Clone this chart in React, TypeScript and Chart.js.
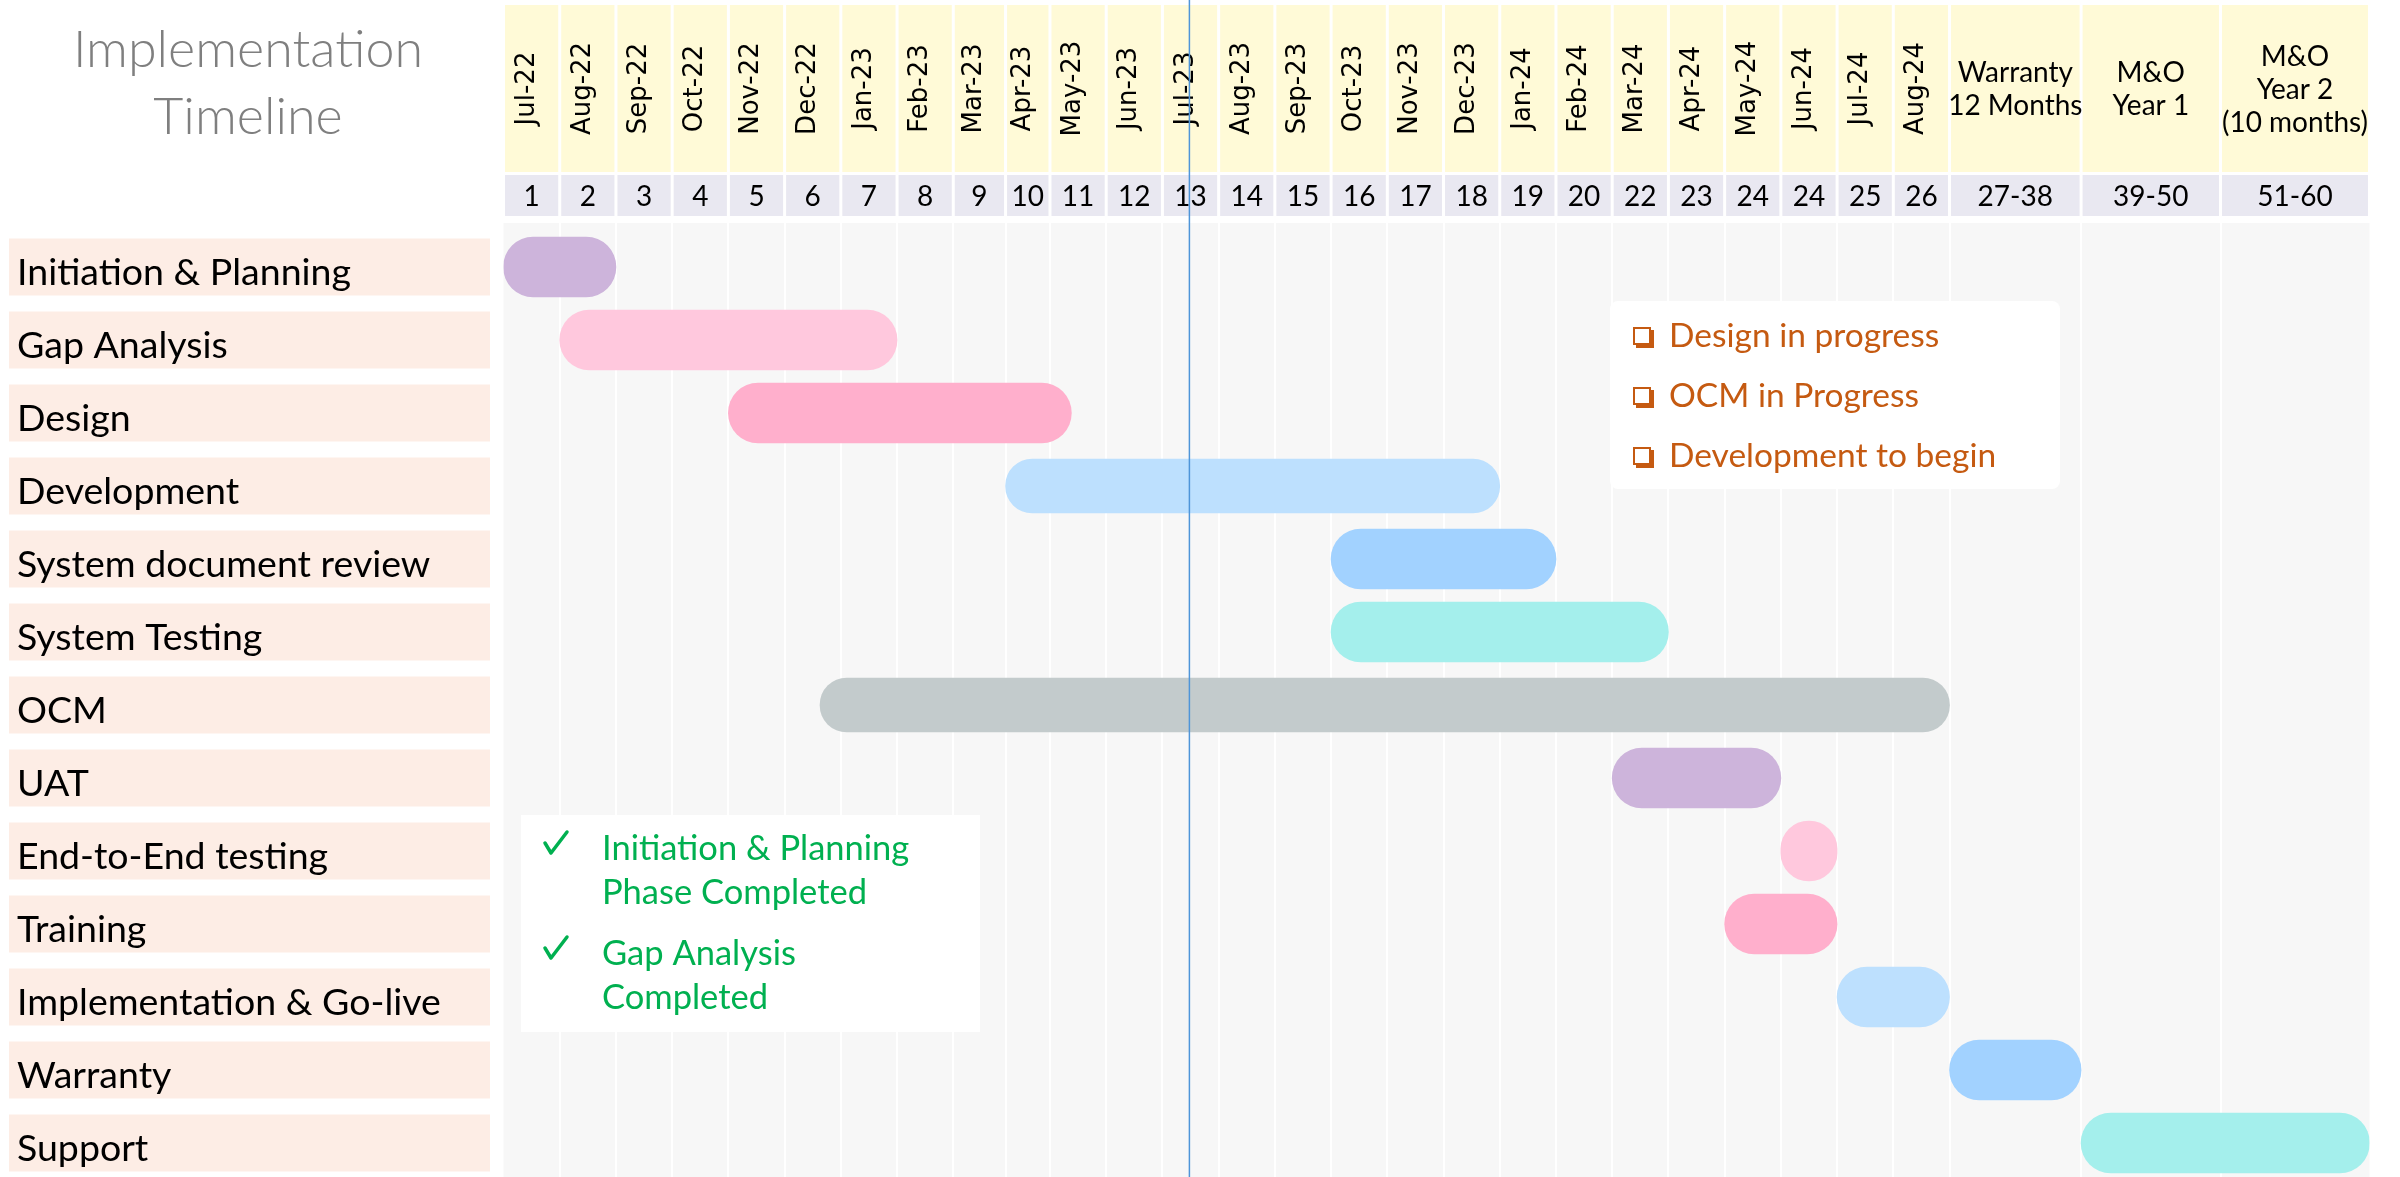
import { useEffect, useRef } from "react";
import { Chart, registerables } from "chart.js";

Chart.register(...registerables);

// ---------------- data ----------------
const taskNames = [
  "Initiation & Planning",
  "Gap Analysis",
  "Design",
  "Development",
  "System document review",
  "System Testing",
  "OCM",
  "UAT",
  "End-to-End testing",
  "Training",
  "Implementation & Go-live",
  "Warranty",
  "Support",
];
// positions on the period grid (0 = start of Jul-22, 1 = start of Aug-22, ...)
const taskStart = [0, 1, 4, 9, 15, 15, 5.63, 20, 23, 22, 24, 26, 27];
const taskEnd = [2, 7, 10.38, 18, 19, 21, 26, 23, 24, 24, 26, 27, 29];

const periodLabels = [
  "Jul-22", "Aug-22", "Sep-22", "Oct-22", "Nov-22", "Dec-22",
  "Jan-23", "Feb-23", "Mar-23", "Apr-23", "May-23", "Jun-23",
  "Jul-23", "Aug-23", "Sep-23", "Oct-23", "Nov-23", "Dec-23",
  "Jan-24", "Feb-24", "Mar-24", "Apr-24", "May-24", "Jun-24",
  "Jul-24", "Aug-24",
  "Warranty\n12 Months", "M&O\nYear 1", "M&O\nYear 2\n(10 months)",
];
const periodNumbers = [
  "1", "2", "3", "4", "5", "6", "7", "8", "9", "10", "11", "12", "13",
  "14", "15", "16", "17", "18", "19", "20", "22", "23", "24", "24", "25", "26",
  "27-38", "39-50", "51-60",
];
const todayPosition = 12.48;

const inProgressNotes = ["Design in progress", "OCM in Progress", "Development to begin"];
const completedNotes = [
  ["Initiation & Planning", "Phase Completed"],
  ["Gap Analysis", "Completed"],
];

// ---------------- styles / layout ----------------
const taskColors = [
  "#CDB4DB", "#FFC8DD", "#FFAFCC", "#BDE0FE", "#A2D2FF", "#A4EFEC", "#C3CBCC",
  "#CDB4DB", "#FFC8DD", "#FFAFCC", "#BDE0FE", "#A2D2FF", "#A4EFEC",
];
const THIN_TASKS = new Set(["Development", "OCM"]);
const PERIOD_WIDTHS = [
  1, 1, 1, 1, 1, 1, 1, 1, 0.93, 0.79,
  1, 1, 1, 1, 1, 1, 1, 1, 1, 1, 1, 1, 1, 1, 1, 1,
  2.34, 2.48, 2.65,
];
const BOUNDS: number[] = [0];
PERIOD_WIDTHS.forEach((w, i) => BOUNDS.push(BOUNDS[i] + w));
const TOTAL_UNITS = BOUNDS[BOUNDS.length - 1];
const toUnits = (pos: number) => {
  const i = Math.min(Math.floor(pos), PERIOD_WIDTHS.length - 1);
  return BOUNDS[i] + (pos - i) * PERIOD_WIDTHS[i];
};

const CANVAS_W = 2400;
const CANVAS_H = 1180;
const SANS = "Lato, 'Noto Sans', sans-serif";

const decorPlugin = {
  id: "decor",
  beforeDraw(chart: any) {
    const ctx: CanvasRenderingContext2D = chart.ctx;
    const xs = chart.scales.x;
    const ys = chart.scales.y;
    const ca = chart.chartArea;
    ctx.save();
    ctx.fillStyle = "#FFFFFF";
    ctx.fillRect(0, 0, chart.width, chart.height);

    // title
    ctx.fillStyle = "#7F7F7F";
    ctx.font = `300 52px ${SANS}`;
    ctx.textAlign = "center";
    ctx.textBaseline = "alphabetic";
    ctx.fillText("Implementation", 248, 67);
    ctx.fillText("Timeline", 248, 134);

    // header cells
    for (let k = 0; k < periodLabels.length; k++) {
      const x0 = xs.getPixelForValue(BOUNDS[k]);
      const x1 = xs.getPixelForValue(BOUNDS[k + 1]);
      const cx = (x0 + x1) / 2;
      ctx.fillStyle = "#FFFAD7";
      ctx.fillRect(x0 + 1.5, 5, x1 - x0 - 3, 167);
      ctx.fillStyle = "#E9E8F1";
      ctx.fillRect(x0 + 1.5, 175, x1 - x0 - 3, 41);

      ctx.fillStyle = "#000000";
      const lab = periodLabels[k];
      if (lab.indexOf("\n") < 0) {
        ctx.save();
        ctx.font = "26px 'DejaVu Sans', Verdana, sans-serif";
        ctx.translate(cx + 2, 88.5);
        ctx.rotate(-Math.PI / 2);
        ctx.textAlign = "center";
        ctx.textBaseline = "alphabetic";
        ctx.fillText(lab, 0, 0);
        ctx.restore();
      } else {
        const lines = lab.split("\n");
        ctx.font = `28px ${SANS}`;
        ctx.textAlign = "center";
        ctx.textBaseline = "alphabetic";
        const lh = 33;
        const first = 88.5 - ((lines.length - 1) * lh) / 2 + 10;
        lines.forEach((ln, j) => ctx.fillText(ln, cx, first + j * lh));
      }
      ctx.font = `28px ${SANS}`;
      ctx.textAlign = "center";
      ctx.fillText(periodNumbers[k], cx, 206);
    }

    // plot background
    ctx.fillStyle = "#F7F7F7";
    ctx.fillRect(ca.left, 223, ca.right - ca.left, chart.height - 223);
    ctx.strokeStyle = "#FFFFFF";
    ctx.lineWidth = 2;
    for (let k = 1; k < BOUNDS.length - 1; k++) {
      const x = Math.round(xs.getPixelForValue(BOUNDS[k]));
      ctx.beginPath();
      ctx.moveTo(x, 223);
      ctx.lineTo(x, chart.height);
      ctx.stroke();
    }

    // row label boxes
    taskNames.forEach((name, i) => {
      const cy = ys.getPixelForValue(i);
      ctx.fillStyle = "#FDEDE5";
      ctx.fillRect(9, cy - 28.5, 481, 57);
      ctx.fillStyle = "#000000";
      ctx.font = `37.5px ${SANS}`;
      ctx.textAlign = "left";
      ctx.textBaseline = "alphabetic";
      ctx.fillText(name, 17, cy + 18);
    });
    ctx.restore();
  },
  afterDraw(chart: any) {
    const ctx: CanvasRenderingContext2D = chart.ctx;
    const xs = chart.scales.x;
    ctx.save();

    // in-progress notes box
    ctx.fillStyle = "#FFFFFF";
    ctx.beginPath();
    (ctx as any).roundRect(1610, 301, 450, 188, 8);
    ctx.fill();
    inProgressNotes.forEach((t, i) => {
      const base = 347 + i * 60;
      const bx = 1634;
      ctx.strokeStyle = "#C55A11";
      ctx.lineWidth = 2;
      ctx.strokeRect(bx, base - 19, 16, 16);
      ctx.fillStyle = "#C55A11";
      ctx.fillRect(bx + 2, base - 3, 18, 4);
      ctx.fillRect(bx + 16, base - 17, 4, 18);
      ctx.font = `33.5px ${SANS}`;
      ctx.textAlign = "left";
      ctx.textBaseline = "alphabetic";
      ctx.fillText(t, 1669, base);
    });

    // completed notes box
    ctx.fillStyle = "#FFFFFF";
    ctx.fillRect(521, 815, 459, 217);
    ctx.fillStyle = "#00B050";
    ctx.strokeStyle = "#00B050";
    completedNotes.forEach((lines, i) => {
      const base = 860 + i * 105;
      ctx.lineWidth = 3.5;
      ctx.lineCap = "round";
      ctx.lineJoin = "round";
      ctx.beginPath();
      ctx.moveTo(545, base - 17);
      ctx.lineTo(551, base - 7);
      ctx.lineTo(567, base - 28);
      ctx.stroke();
      ctx.font = `34.5px ${SANS}`;
      ctx.textAlign = "left";
      ctx.textBaseline = "alphabetic";
      lines.forEach((ln, j) => ctx.fillText(ln, 602, base + j * 44));
    });

    // today marker
    const tx = xs.getPixelForValue(toUnits(todayPosition));
    ctx.strokeStyle = "#4E95D9";
    ctx.lineWidth = 1.5;
    ctx.beginPath();
    ctx.moveTo(tx, 0);
    ctx.lineTo(tx, chart.height);
    ctx.stroke();
    ctx.restore();
  },
};

export default function App() {
  const ref = useRef<HTMLCanvasElement>(null);
  useEffect(() => {
    document.body.style.margin = "0";
    document.body.style.overflow = "hidden";
    document.documentElement.style.overflow = "hidden";
    const mk = (thin: boolean) =>
      taskNames.map((n, i) =>
        THIN_TASKS.has(n) === thin ? [toUnits(taskStart[i]), toUnits(taskEnd[i])] : null
      );
    const chart = new Chart(ref.current as HTMLCanvasElement, {
      type: "bar",
      data: {
        labels: taskNames,
        datasets: [
          {
            data: mk(false) as any,
            backgroundColor: taskColors,
            barThickness: 60,
            borderRadius: 30,
            borderSkipped: false,
            grouped: false,
          } as any,
          {
            data: mk(true) as any,
            backgroundColor: taskColors,
            barThickness: 54,
            borderRadius: 27,
            borderSkipped: false,
            grouped: false,
          } as any,
        ],
      },
      options: {
        indexAxis: "y",
        responsive: false,
        animation: false,
        events: [],
        layout: { padding: { left: 503.5, right: 30.5, top: 230.5, bottom: 0.5 } },
        scales: {
          x: { type: "linear", min: 0, max: TOTAL_UNITS, display: false },
          y: { type: "category", display: false, offset: true },
        },
        plugins: { legend: { display: false }, tooltip: { enabled: false } },
      },
      plugins: [decorPlugin],
    });
    return () => chart.destroy();
  }, []);
  return (
    <div style={{ width: CANVAS_W, height: 1177, overflow: "hidden" }}>
      <canvas
        ref={ref}
        width={CANVAS_W}
        height={CANVAS_H}
        style={{ display: "block", width: CANVAS_W, height: CANVAS_H }}
      />
    </div>
  );
}
